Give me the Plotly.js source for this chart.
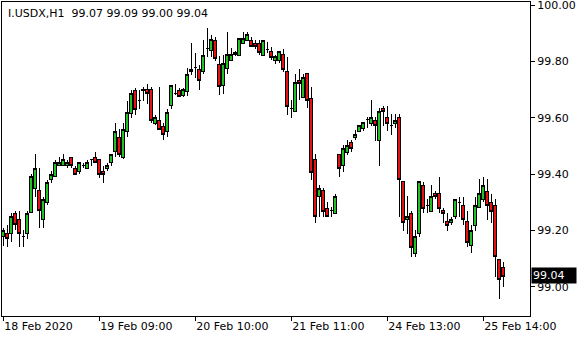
<!DOCTYPE html>
<html><head><meta charset="utf-8">
<script src="https://cdn.plot.ly/plotly-3.0.1.min.js"></script>
<style>html,body{margin:0;padding:0;background:#fff}#chart{width:580px;height:340px}#chart .boxlayer path{shape-rendering:crispEdges}</style>
</head><body><div id="chart"></div>
<script>
const symbolLabel = "I.USDX,H1";
const openP = [
99.180,99.19,99.19,99.26,99.24,99.18,99.19,99.265,99.35,99.34,
99.24,99.30,99.38,99.39,99.43,99.43,99.43,99.46,99.42,99.41,
99.43,99.42,99.45,99.46,99.45,99.41,99.42,99.44,99.48,99.53,
99.46,99.55,99.615,99.695,99.66,99.70,99.70,99.70,99.58,99.59,
99.57,99.55,99.645,99.685,99.695,99.68,99.693,99.763,99.78,99.773,
99.763,99.846,99.839,99.873,99.79,99.716,99.774,99.805,99.833,99.822,
99.863,99.875,99.876,99.864,99.864,99.822,99.843,99.835,99.805,99.805,
99.823,99.763,99.633,99.623,99.734,99.673,99.756,99.67,99.452,99.319,
99.341,99.278,99.269,99.261,99.471,99.432,99.478,99.512,99.53,99.552,
99.562,99.595,99.578,99.592,99.518,99.633,99.602,99.573,99.581,99.602,
99.372,99.237,99.261,99.118,99.189,99.361,99.29,99.268,99.33,99.33,
99.27,99.23,99.227,99.249,99.30,99.29,99.23,99.147,99.218,99.28,
99.31,99.339,99.30,99.289,99.097,99.069];
const highP = [
99.207,99.22,99.26,99.27,99.27,99.20,99.27,99.40,99.47,99.42,
99.32,99.38,99.41,99.45,99.46,99.47,99.45,99.46,99.43,99.44,
99.44,99.45,99.452,99.48,99.45,99.43,99.44,99.47,99.58,99.56,
99.58,99.66,99.70,99.705,99.70,99.71,99.72,99.71,99.61,99.71,
99.58,99.63,99.715,99.72,99.705,99.705,99.776,99.864,99.83,99.787,
99.876,99.917,99.893,99.888,99.82,99.823,99.905,99.846,99.836,99.882,
99.904,99.905,99.888,99.876,99.876,99.876,99.87,99.853,99.823,99.837,
99.843,99.814,99.663,99.756,99.772,99.756,99.756,99.709,99.471,99.361,
99.349,99.30,99.282,99.33,99.471,99.503,99.521,99.521,99.557,99.574,
99.583,99.604,99.663,99.604,99.633,99.64,99.64,99.614,99.614,99.614,
99.372,99.322,99.27,99.201,99.372,99.372,99.31,99.361,99.34,99.388,
99.278,99.261,99.249,99.31,99.32,99.32,99.268,99.218,99.32,99.381,
99.39,99.381,99.33,99.31,99.097,99.088];
const lowP = [
99.144,99.14,99.16,99.20,99.14,99.14,99.17,99.26,99.32,99.21,
99.21,99.29,99.37,99.39,99.43,99.43,99.42,99.42,99.40,99.40,
99.42,99.42,99.43,99.44,99.385,99.37,99.41,99.43,99.46,99.46,
99.455,99.53,99.60,99.61,99.63,99.66,99.65,99.58,99.575,99.56,
99.52,99.53,99.63,99.68,99.675,99.675,99.677,99.752,99.74,99.70,
99.757,99.814,99.815,99.803,99.68,99.684,99.756,99.80,99.82,99.818,
99.861,99.872,99.85,99.844,99.823,99.82,99.829,99.806,99.791,99.796,
99.763,99.609,99.60,99.623,99.663,99.673,99.633,99.378,99.227,99.249,
99.249,99.249,99.249,99.261,99.388,99.409,99.468,99.48,99.521,99.552,
99.554,99.562,99.571,99.518,99.429,99.569,99.552,99.54,99.562,99.249,
99.199,99.188,99.107,99.107,99.178,99.261,99.261,99.268,99.31,99.261,
99.227,99.199,99.218,99.239,99.249,99.218,99.14,99.118,99.199,99.28,
99.30,99.237,99.227,99.036,98.955,98.998];
const closeP = [
99.201,99.17,99.25,99.22,99.19,99.18,99.26,99.39,99.42,99.27,
99.31,99.37,99.40,99.44,99.44,99.45,99.44,99.43,99.40,99.44,
99.43,99.44,99.45,99.44,99.40,99.40,99.43,99.47,99.55,99.47,
99.56,99.62,99.685,99.63,99.66,99.695,99.685,99.59,99.60,99.56,
99.54,99.62,99.715,99.685,99.675,99.70,99.754,99.773,99.78,99.733,
99.822,99.846,99.878,99.811,99.71,99.793,99.823,99.823,99.823,99.882,
99.882,99.894,99.854,99.852,99.831,99.876,99.843,99.815,99.817,99.835,
99.772,99.639,99.633,99.725,99.722,99.744,99.663,99.406,99.249,99.349,
99.267,99.249,99.269,99.322,99.419,99.491,99.502,99.491,99.542,99.574,
99.583,99.595,99.602,99.572,99.622,99.621,99.581,99.573,99.592,99.381,
99.227,99.251,99.14,99.18,99.372,99.278,99.29,99.322,99.32,99.278,
99.261,99.218,99.239,99.31,99.30,99.239,99.156,99.201,99.289,99.33,
99.36,99.289,99.268,99.107,99.026,99.038];
const tickIndex = [0, 24, 48, 72, 96, 120];
const tickLabels = ["18 Feb 2020", "19 Feb 09:00", "20 Feb 10:00", "21 Feb 11:00", "24 Feb 13:00", "25 Feb 14:00"];
const priceTicks = [99.00, 99.20, 99.40, 99.60, 99.80, 100.00];
const lastPriceLabel = "99.04";

const bars = openP.map((_, i) => i);
const n = bars.length - 1;
const font = {family: "DejaVu Sans", size: 11, color: "#000"};
const headerText = symbolLabel + "\u00a0\u00a0" + openP[n].toFixed(2) + " " + highP[n].toFixed(2) + " " + lowP[n].toFixed(2) + " " + closeP[n].toFixed(2);

const trace = {
  type: "candlestick",
  x: bars, open: openP, high: highP, low: lowP, close: closeP,
  increasing: {line: {color: "#000", width: 1}, fillcolor: "#22C022"},
  decreasing: {line: {color: "#000", width: 1}, fillcolor: "#E81010"},
  whiskerwidth: 0,
  hoverinfo: "none"
};

const layout = {
  width: 580, height: 340,
  margin: {l: 2, r: 50, t: 2, b: 24},
  paper_bgcolor: "#fff", plot_bgcolor: "#fff",
  showlegend: false,
  boxgap: 0.02,
  font: font,
  xaxis: {
    type: "linear", range: [-0.325, 131.675],
    rangeslider: {visible: false},
    showline: true, mirror: true, linecolor: "#000", linewidth: 1,
    ticks: "outside", ticklen: 4, tickcolor: "#000",
    tickvals: tickIndex, ticktext: tickLabels,
    ticklabelposition: "outside right",
    ticklabeloverflow: "allow",
    showgrid: false, zeroline: false, tickfont: font
  },
  yaxis: {
    side: "right", range: [98.896, 100.011],
    showline: true, mirror: true, linecolor: "#000", linewidth: 1,
    ticks: "outside", ticklen: 4, tickcolor: "#000",
    tickvals: priceTicks, tickformat: ".2f",
    ticklabeloverflow: "allow",
    showgrid: false, zeroline: false, tickfont: font
  },
  annotations: [
    {xref: "paper", yref: "paper", x: 0, y: 1, xanchor: "left", yanchor: "top",
     xshift: 4, yshift: -3, text: headerText, showarrow: false, font: font},
    {xref: "paper", yref: "y", x: 1, y: parseFloat(lastPriceLabel), xanchor: "left", yanchor: "middle",
     xshift: 1, text: lastPriceLabel, showarrow: false, bgcolor: "#000",
     font: {family: "DejaVu Sans", size: 11, color: "#fff"}, borderpad: 1, width: 42, align: "left"}
  ]
};

Plotly.newPlot("chart", [trace], layout, {staticPlot: true, displayModeBar: false});
</script></body></html>
